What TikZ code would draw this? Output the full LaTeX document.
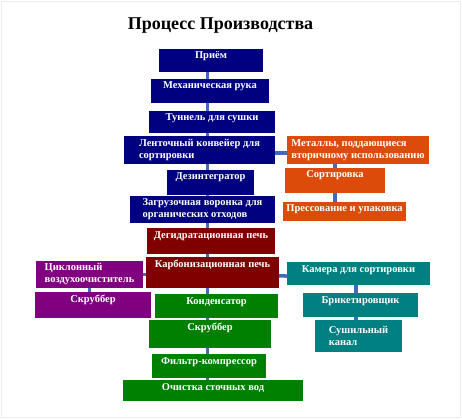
\documentclass[tikz,border=0pt]{standalone}
\usepackage{fontspec}
\setmainfont{Liberation Serif}
\usepackage{xcolor}
\definecolor{procnavy}{RGB}{0,0,128}
\definecolor{procorange}{RGB}{220,75,10}
\definecolor{procmaroon}{RGB}{128,0,0}
\definecolor{procpurple}{RGB}{128,0,128}
\definecolor{procgreen}{RGB}{0,128,0}
\definecolor{procteal}{RGB}{0,128,128}
\definecolor{proclink}{RGB}{65,105,190}
\usepackage{tikz}
\usetikzlibrary{backgrounds}
\tikzset{
  proc box/.style={fill=#1, text=white, inner xsep=3pt, inner ysep=3pt, font=\bfseries\fontsize{10.5}{12}\selectfont},
  proc line/.style={text height=7pt, text depth=#1},
  proc lines/.style={align=left},
  proc link/.style={draw=proclink, line width=3.5pt},
  proc title/.style={font=\bfseries\fontsize{18}{21}\selectfont},
}

\begin{document}
\begin{tikzpicture}[x=1pt, y=-1pt]
  \useasboundingbox (0,0) rectangle (462,419);
  \draw[gray!15, line width=1pt] (1.5,1.5) rectangle (460.5,417.5);
  \node[proc title, anchor=base] (title) at (220.5,30) {Процесс Производства};
  % main column
  \node[proc box=procnavy, proc line=10pt, minimum width=104pt] (priem) at (211,60.5) {Приём};
  \node[proc box=procnavy, proc line=11pt, minimum width=118pt] (mekh) at (210,91) {Механическая рука};
  \node[proc box=procnavy, proc line=9pt, minimum width=126pt] (tunnel) at (212,122) {Туннель для сушки};
  \node[proc box=procnavy, proc lines, minimum width=151pt, minimum height=26pt] (konv) at (199.5,150) {Ленточный конвейер для\\сортировки};
  \node[proc box=procnavy, proc line=12pt, minimum width=87pt] (dezint) at (210.5,182.5) {Дезинтегратор};
  \node[proc box=procnavy, proc lines, minimum width=145pt, minimum height=25pt] (voronka) at (202.5,209.5) {Загрузочная воронка для\\органических отходов};
  \node[proc box=procmaroon, proc line=13pt, minimum width=128pt] (degid) at (211,241) {Дегидратационная печь};
  \node[proc box=procmaroon, proc line=18pt, minimum width=133pt] (karbon) at (212.5,272.5) {Карбонизационная печь};
  \node[proc box=procgreen, proc line=11pt, minimum width=123pt] (konden) at (216.5,306) {Конденсатор};
  \node[proc box=procgreen, proc line=15pt, minimum width=122pt] (skrub2) at (210,334) {Скруббер};
  \node[proc box=procgreen, proc line=11pt, minimum width=114pt] (filtr) at (209,366) {Фильтр-компрессор};
  \node[proc box=procgreen, proc line=8pt, minimum width=180pt] (ochist) at (213,390.5) {Очистка сточных вод};
  % metals branch
  \node[proc box=procorange, proc lines, minimum width=142pt, minimum height=26pt] (metall) at (358,150) {Металлы, поддающиеся\\вторичному использованию};
  \node[proc box=procorange, proc line=12pt, minimum width=100pt] (sort) at (335,180.5) {Сортировка};
  \node[proc box=procorange, proc line=6pt, minimum width=123pt] (press) at (344.5,211.5) {Прессование и упаковка};
  % gas branch
  \node[proc box=procpurple, proc lines, minimum width=107pt, minimum height=27pt] (ciklon) at (89.5,274.5) {Циклонный\\воздухоочиститель};
  \node[proc box=procpurple, proc line=13pt, minimum width=116pt] (skrub1) at (93,305) {Скруббер};
  % charcoal branch
  \node[proc box=procteal, proc line=10pt, minimum width=143pt] (kamera) at (358.5,273.5) {Камера для сортировки};
  \node[proc box=procteal, proc line=11pt, minimum width=115pt] (briket) at (360.5,305) {Брикетировщик};
  \node[proc box=procteal, proc lines, minimum width=87pt, minimum height=32pt] (sush) at (358.5,336) {Сушильный\\канал};
  % links
  \begin{scope}[on background layer]
    \coordinate (trunk) at (207.5,60);
    \draw[proc link] (trunk) -- (trunk |- ochist.center);
    \draw[proc link] ([yshift=-3pt]konv.center) -- ([yshift=-3pt]metall.center);
    \draw[proc link] (metall.center -| sort) -- (press.center -| sort);
    \draw[proc link] (ciklon) -- (ciklon -| karbon);
    \draw[proc link] ([yshift=-3pt]karbon.center) -- ([yshift=-3pt]kamera.center);
    \draw[proc link] (ciklon) -- (skrub1.center -| ciklon);
    \draw[proc link] ([xshift=-2.5pt]kamera.center) -- ([xshift=-2.5pt]sush.center);
  \end{scope}
\end{tikzpicture}
\end{document}
